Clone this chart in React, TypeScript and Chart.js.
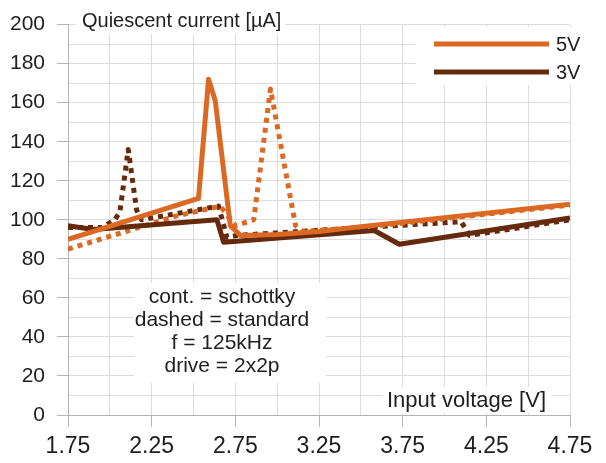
import React, { useEffect, useRef } from 'react';
import { Chart, registerables } from 'chart.js';

Chart.register(...registerables);

const FONT = '"Liberation Sans", Arial, sans-serif';
const ORANGE = '#dc6923';
const BROWN = '#65290b';
const TEXT = '#1e1e1e';
const GRID = '#dcdcdc';
const AXIS = '#b3b3b3';

// Input voltage [V] / quiescent current [µA]
const schottky5V_x = [1.75, 2.53, 2.59, 2.63, 2.72, 2.78, 3.0, 3.25, 3.5, 4.75];
const schottky5V_y = [90, 111, 172, 161, 97, 92, 92.5, 94, 96.5, 108];
const schottky3V_x = [1.75, 1.9, 2.64, 2.68, 3.58, 3.73, 4.75];
const schottky3V_y = [97, 95, 100, 88.5, 94.5, 87.5, 101];
const standard5V_x = [1.75, 2.4, 2.66, 2.75, 2.86, 2.96, 3.11, 3.15, 3.5, 4.75];
const standard5V_y = [85, 102, 107, 97, 100, 167, 97, 94, 96, 107.5];
const standard3V_x = [1.75, 1.95, 2.03, 2.06, 2.11, 2.16, 2.19, 2.65, 2.7, 2.76, 3.5, 4.1, 4.15, 4.75];
const standard3V_y = [96, 96, 100, 104, 136, 105, 100, 107, 91, 92, 96, 99, 92, 100];

const legendLabels = ['5V', '3V'];
const noteLines = ['cont. = schottky', 'dashed = standard', 'f = 125kHz', 'drive = 2x2p'];
const yTitle = 'Quiescent current [µA]';
const xTitle = 'Input voltage [V]';

const pts = (xs: number[], ys: number[]) => xs.map((x, i) => ({ x, y: ys[i] }));

const overlayPlugin = {
  id: 'overlay',
  afterDatasetsDraw(chart: any) {
    const ctx = chart.ctx as CanvasRenderingContext2D;
    ctx.save();
    ctx.textBaseline = 'middle';
    // y title
    ctx.font = `20px ${FONT}`;
    ctx.fillStyle = '#fff';
    const tw = ctx.measureText(yTitle).width;
    ctx.fillRect(76, 8, tw + 10, 26);
    ctx.fillStyle = TEXT;
    ctx.textAlign = 'left';
    ctx.fillText(yTitle, 82, 21);
    // x title
    ctx.font = `22px ${FONT}`;
    const xw = ctx.measureText(xTitle).width;
    ctx.fillStyle = '#fff';
    ctx.fillRect(382, 387, xw + 10, 26);
    ctx.fillStyle = TEXT;
    ctx.fillText(xTitle, 387, 401);
    // legend
    ctx.font = `20px ${FONT}`;
    ctx.fillStyle = '#fff';
    ctx.fillRect(416, 27, 180, 58);
    const colors = [ORANGE, BROWN];
    const ly = [44, 72];
    legendLabels.forEach((l, i) => {
      ctx.strokeStyle = colors[i];
      ctx.lineWidth = 5;
      ctx.beginPath();
      ctx.moveTo(434, ly[i]);
      ctx.lineTo(549, ly[i]);
      ctx.stroke();
      ctx.fillStyle = TEXT;
      ctx.textAlign = 'left';
      ctx.fillText(l, 556, ly[i] + 1);
    });
    // note box
    ctx.font = `21px ${FONT}`;
    ctx.fillStyle = '#fff';
    ctx.fillRect(134, 283, 192, 100);
    ctx.fillStyle = TEXT;
    ctx.textAlign = 'center';
    noteLines.forEach((l, i) => ctx.fillText(l, 222, 297 + i * 23));
    ctx.restore();
  },
};

export default function App() {
  const ref = useRef<HTMLCanvasElement>(null);
  useEffect(() => {
    const c = ref.current!;
    const common = {
      fill: false,
      pointRadius: 0,
      borderWidth: 5,
      tension: 0,
      borderCapStyle: 'butt' as const,
      borderJoinStyle: 'round' as const,
    };
    const chart = new Chart(c, {
      type: 'line',
      data: {
        datasets: [
          { label: '5V schottky', data: pts(schottky5V_x, schottky5V_y), borderColor: ORANGE, order: 0, ...common },
          { label: '3V schottky', data: pts(schottky3V_x, schottky3V_y), borderColor: BROWN, order: 1, ...common },
          { label: '5V standard', data: pts(standard5V_x, standard5V_y), borderColor: ORANGE, borderDash: [5, 5], order: 2, ...common },
          { label: '3V standard', data: pts(standard3V_x, standard3V_y), borderColor: BROWN, borderDash: [5, 5], order: 3, ...common },
        ],
      },
      options: {
        animation: false,
        responsive: false,
        maintainAspectRatio: false,
        layout: { padding: { top: 20, right: 36, left: 0, bottom: 0 } },
        plugins: { legend: { display: false }, tooltip: { enabled: false }, title: { display: false } },
        scales: {
          x: {
            type: 'linear',
            min: 1.75,
            max: 4.75,
            afterFit: (s: any) => { s.height = 48; },
            ticks: {
              stepSize: 0.25,
              autoSkip: false,
              maxRotation: 0,
              padding: 6,
              color: TEXT,
              font: { family: FONT, size: 23 },
              callback: (v: any, i: number) => (i % 2 === 0 ? Number(v).toFixed(2) : ''),
            },
            grid: {
              color: GRID,
              tickLength: 12,
              tickColor: (ctx: any) => (ctx.index % 2 === 0 ? AXIS : 'rgba(0,0,0,0)'),
            },
            border: { color: AXIS },
          },
          y: {
            min: 0,
            max: 200,
            afterFit: (s: any) => { s.width = 68; },
            ticks: {
              stepSize: 10,
              autoSkip: false,
              padding: 12,
              color: TEXT,
              font: { family: FONT, size: 21 },
              callback: (v: any) => (Number(v) % 20 === 0 ? String(v) : ''),
            },
            grid: {
              color: GRID,
              tickLength: 11,
              tickColor: (ctx: any) => (ctx.tick && ctx.tick.value % 20 === 0 ? AXIS : 'rgba(0,0,0,0)'),
            },
            border: { color: AXIS },
          },
        },
      },
      plugins: [overlayPlugin],
    });
    return () => chart.destroy();
  }, []);
  return (
    <div style={{ position: 'fixed', left: 0, top: 0, width: 606, height: 463, background: '#fff' }}>
      <canvas ref={ref} width={606} height={463} style={{ width: 606, height: 463, display: 'block' }} />
    </div>
  );
}
